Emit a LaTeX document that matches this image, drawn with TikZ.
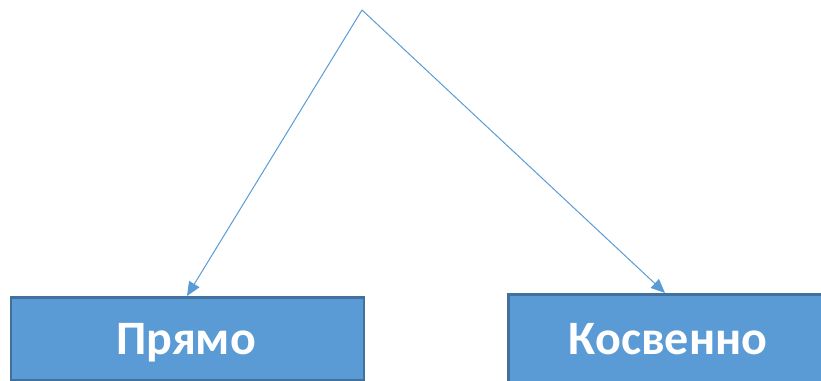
\documentclass[tikz,border=0pt]{standalone}
\usepackage{fontspec}
\setmainfont{Carlito}
\usetikzlibrary{arrows.meta}
\definecolor{boxfill}{HTML}{5B9BD5}
\definecolor{boxline}{HTML}{41719C}
\tikzset{
  box/.style={draw=boxline, line width=2.5pt, fill=boxfill, rectangle, inner sep=0pt},
  lbl/.style={text=white, font=\bfseries\fontsize{48}{52}\selectfont, anchor=base, inner sep=0pt},
  link/.style={draw=boxfill, line width=1pt, -{Triangle[length=14pt,width=12pt]}}
}
\begin{document}
\begin{tikzpicture}[x=1pt,y=-1pt]
\useasboundingbox (0,0) rectangle (821,380);
\clip (0,0) rectangle (821,380);
\coordinate (top) at (362,10);
\node[box, minimum width=353pt, minimum height=83pt, anchor=north west] (left) at (9.5,296) {};
\node[box, minimum width=330pt, minimum height=100pt, anchor=north west] (right) at (507,293) {};
\node[lbl] (ltext) at (186,354) {Прямо};
\node[lbl] (rtext) at (668,354) {Косвенно};
\draw[link] (top) -- (left.north west -| 187,0);
\draw[link] (top) -- (right.north west -| 665,0);
\end{tikzpicture}
\end{document}
